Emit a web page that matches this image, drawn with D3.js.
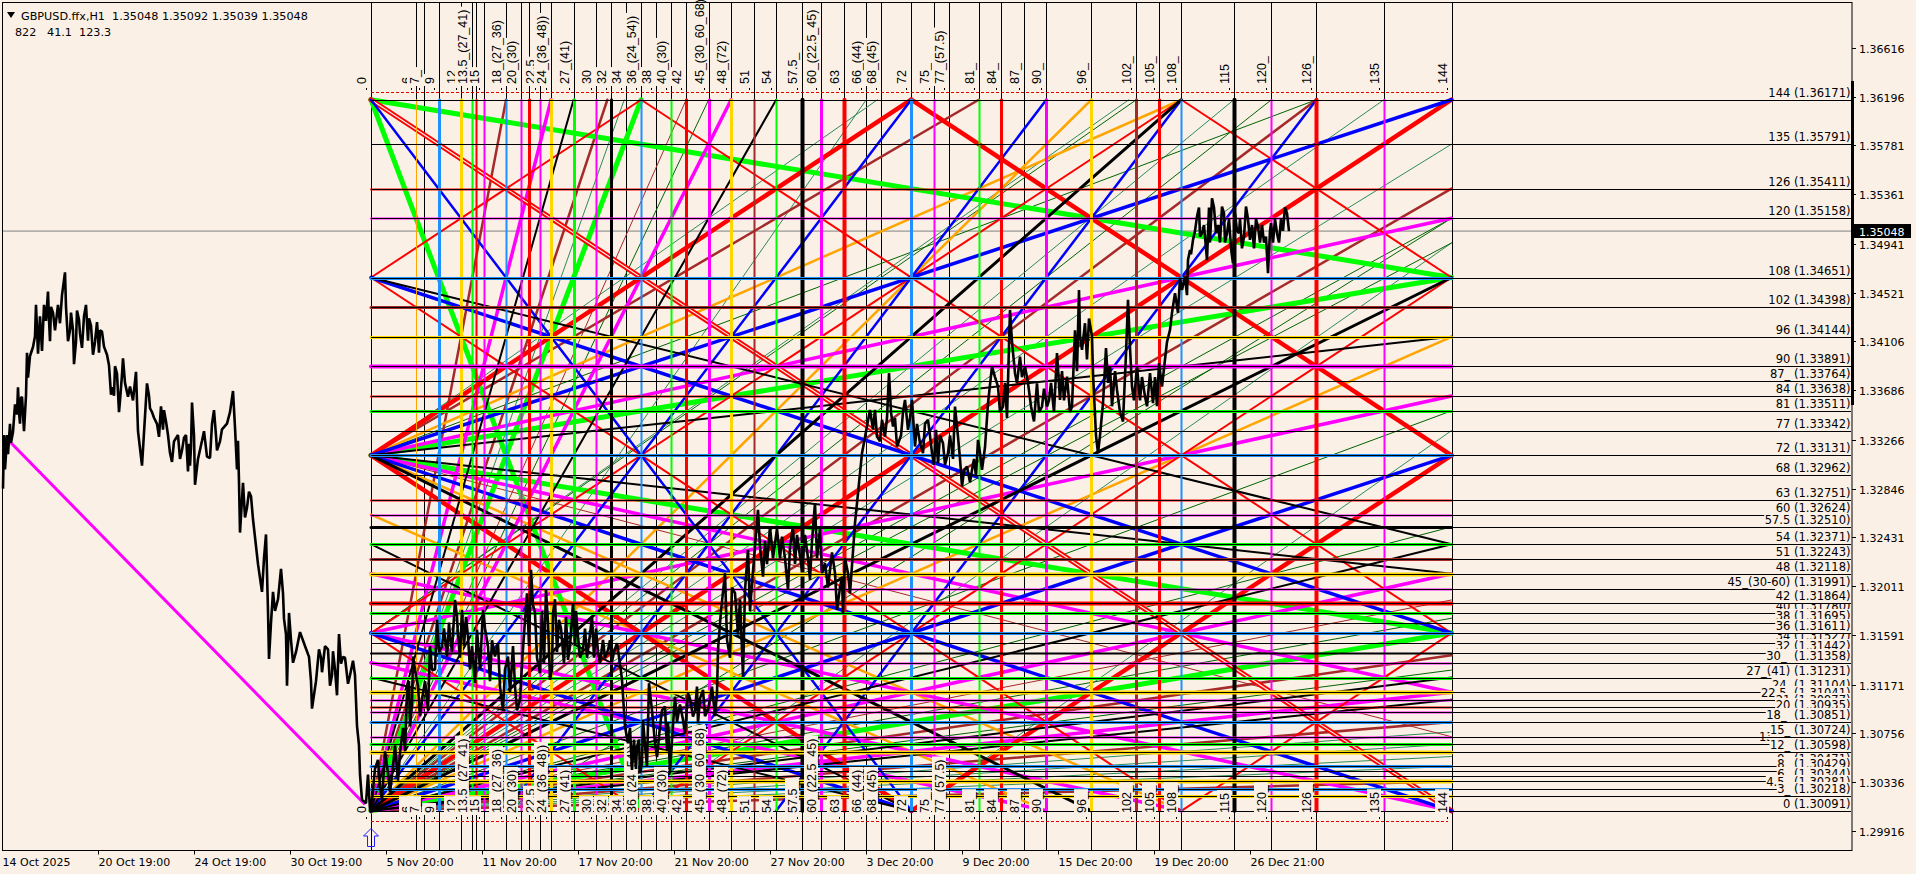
<!DOCTYPE html>
<html><head><meta charset="utf-8">
<script src="https://cdn.jsdelivr.net/npm/d3@7/dist/d3.min.js"></script>
<style>html,body{margin:0;padding:0;background:#faf0e6;overflow:hidden}svg{display:block}text{font-family:"DejaVu Sans",sans-serif;font-size:11px;fill:#000}</style>
</head><body><svg id="c" width="1916" height="874"></svg>
<script>
// ---------- data ----------
const axisPrices=["1.36616","1.36196","1.35781","1.35361","1.34941","1.34521","1.34106","1.33686","1.33266","1.32846","1.32431","1.32011","1.31591","1.31171","1.30756","1.30336","1.29916"];
const dateLabels=["14 Oct 2025","20 Oct 19:00","24 Oct 19:00","30 Oct 19:00","5 Nov 20:00","11 Nov 20:00","17 Nov 20:00","21 Nov 20:00","27 Nov 20:00","3 Dec 20:00","9 Dec 20:00","15 Dec 20:00","19 Dec 20:00","26 Dec 21:00"];
const dateBars=[0,96,192,288,384,480,576,672,768,864,960,1056,1152,1248];
const infoLine1="GBPUSD.ffx,H1  1.35048 1.35092 1.35039 1.35048";
const infoLine2="822   41.1  123.3";
const lastPrice=1.35048;
const levelBase=1.30091, levelTop=1.36171;
// Gann vertical steps and their labels
const stepValues=[0,6,7,9,12,13.5,14,15,18,20,21,22.5,24,27,30,32,34,36,38,40,42,45,48,51,54,57.5,60,63,66,68,72,75,77,81,84,87,90,96,102,105,108,115,120,126,135,144];
const stepLabels=["0","6_","7_","9","12","13.5_(27_41)","","15","18_(27_36)","20_(30)","","22.5","24_(36_48))","27_(41)","30","32","34","36_(24_54))","38","40_(30)","42","45_(30_60_68)","48_(72)","51","54","57.5_","60_(22.5_45)","63","66_(44)","68_(45)","72","75_","77_(57.5)","81_","84_","87_","90_","96_","102_","105_","108_","115","120_","126_","135","144"];
const stepColors=["black","orange","black","dodger","gold","lime","red","magenta","dodger","magenta","red","magenta","gold","lime","magenta","black","black","dodger","black","lime","red","magenta","gold","brown","lime","black","magenta","red","black","black","dodger","magenta","black","lime","red","black","magenta","gold","brown","red","dodger","black","magenta","red","magenta","black"];
// Gann horizontal levels and their labels
const levelValues=[144,135,126,120,108,102,96,90,87,84,81,77,72,68,63,60,57.5,54,51,48,45,42,40,38,36,34,32,30,27,24,22.5,21,20,18,15,13.5,12,9,8,7,6,4.5,3,0];
const levelNames=["144","135","126","120","108","102","96","90","87_","84","81","77","72","68","63","60","57.5","54","51","48","45_(30-60)","42","40","38","36","34","32","30_ ","27_(41)","24 ","22.5 ","21","20","18_ ","15_","13.5_","12_","9_","8_","7_","6_","4.5_","3_","0"];
const levelPrices=["1.36171","1.35791","1.35411","1.35158","1.34651","1.34398","1.34144","1.33891","1.33764","1.33638","1.33511","1.33342","1.33131","1.32962","1.32751","1.32624","1.32510","1.32371","1.32243","1.32118","1.31991","1.31864","1.31780","1.31695","1.31611","1.31527","1.31442","1.31358","1.31231","1.31104","1.31041","1.30977","1.30935","1.30851","1.30724","1.30661","1.30598","1.30471","1.30429","1.30387","1.30344","1.30281","1.30218","1.30091"];
const levelColors=["black","black","red","magenta","dodger","brown","gold","magenta","black","red","lime","black","dodger","black","red","magenta","black","lime","brown","gold","magenta","red","lime","black","dodger","black","black","magenta","lime","gold","magenta","red","magenta","dodger","magenta","lime","gold","dodger","black","red","gold","dodger","gold","black"];
const labelsDrawnFirst=[40,34,13.5,9,7];
// Rays: [step0, level0, step1, level1]
const redThickRays=[[0,0,144,144],[0,72,72,144],[72,144,144,72],[0,72,72,0],[72,0,144,72]];
const redThinRays=[[0,108,36,144],[0,36,108,144],[36,0,144,108],[108,0,144,36],[0,108,108,0],[36,144,144,36],[0,36,36,0],[108,144,144,108]];
const redDoubleRays=[[0,144,144,0]];
const blueWideRays=[[0,72,144,144],[0,108,144,36],[0,72,144,0],[0,0,144,72],[0,36,72,0]];
const blueSteepRays=[[0,144,72,0],[0,0,72,144],[18,0,90,144],[36,0,108,144],[54,0,126,144]];
const greenRays=[[0,144,144,108],[0,144,36,0],[0,72,144,108],[0,72,144,36],[0,0,36,144],[0,0,144,36]];
const magentaRays=[[0,72,144,120],[0,36,144,84],[0,0,144,48],[0,72,144,24],[0,36,108,0],[0,48,144,0],[0,0,48,144],[0,0,24,144],[0,0,144,24],[0,30,90,0]];
const orangeRays=[[0,0,144,96],[0,72,108,144],[0,0,96,144],[0,72,108,0],[0,60,90,0]];
const blackWideRays=[[0,0,144,108],[0,0,108,144],[0,72,96,0]];
const blackMidRays=[[0,108,144,54],[0,72,144,96],[0,72,144,48],[0,0,144,54],[0,0,54,144],[0,0,27,144],[0,0,144,27],[0,54,72,0],[0,27,72,0],[0,0,144,22.5]];
const brownRays=[[0,0,144,126],[0,0,126,144],[0,72,81,144],[0,0,18,144],[0,0,144,18],[0,0,31.5,144],[0,0,144,31.5],[0,0,144,6]];
const brownThinRays=[[0,72,144,15],[0,0,42,144],[0,0,144,42.7]];
const seaGreenRays=[[0,0,144,135],[0,0,135,144],[0,0,115,144],[0,0,66,144],[0,0,33.75,144],[36,0,144,115],[72,0,144,77],[0,36,101,144],[0,72,67.5,144],[0,0,144,16],[0,0,144,11],[0,0,144,13.5],[0,0,144,9]];
const darkGreenRays=[[0,0,144,120],[0,0,144,115],[0,0,144,81],[0,0,45,144],[0,0,120,144],[0,36,102,144],[0,72,126,144],[0,0,144,57.5],[0,0,144,39],[0,0,144,28.5],[18,0,144,120]];
// Price curve, [bar, close]
const octoberCloses=[[1,1.32846],[2,1.33304],[3,1.33010],[5,1.33304],[6,1.33141],[9,1.33239],[13,1.33566],[16,1.33713],[18,1.33402],[20,1.33631],[22,1.33337],[25,1.34008],[26,1.33795],[31,1.34057],[34,1.34417],[40,1.34024],[42,1.34417],[46,1.34531],[48,1.34106],[51,1.34351],[56,1.34417],[63,1.34695],[66,1.34106],[69,1.34351],[72,1.33910],[75,1.34368],[78,1.34171],[84,1.34417],[87,1.34302],[91,1.33991],[95,1.34270],[97,1.34008],[100,1.34188],[105,1.33991],[111,1.33713],[113,1.33893],[118,1.33599],[121,1.33959],[126,1.33631],[134,1.33844],[136,1.33337],[140,1.33043],[145,1.33746],[148,1.33533],[152,1.33452],[157,1.33288],[159,1.33550],[162,1.33517],[166,1.33304],[170,1.33075],[176,1.33304],[180,1.33173],[184,1.33304],[186,1.32993],[188,1.33043],[190,1.33582],[193,1.32879],[200,1.33255],[202,1.33337],[208,1.33108],[212,1.33517],[215,1.33173],[220,1.33353],[225,1.33402],[231,1.33681],[233,1.33370],[235,1.33010],[236,1.33255],[238,1.32470],[241,1.32895],[245,1.32683],[249,1.32781],[251,1.32584],[254,1.32355],[260,1.31963],[264,1.32454],[267,1.31390],[271,1.31963],[279,1.32159],[282,1.31734],[285,1.31161],[287,1.31783],[291,1.31357],[298,1.31619],[307,1.31407],[310,1.30965],[317,1.31472],[320,1.31276],[326,1.31472],[328,1.31161],[331,1.31456],[335,1.31079],[337,1.31603],[341,1.31407],[346,1.31177],[351,1.31374],[355,1.30818],[360,1.30185]];
const octoberDetail=[[4,1.33140],[8,1.33400],[11,1.33330],[15,1.33480],[17,1.33500],[19,1.33620],[24,1.33640],[28,1.33980],[33,1.34150],[36,1.34000],[38,1.34320],[44,1.34280],[47,1.34290],[49,1.34400],[53,1.34200],[58,1.34260],[60,1.34500],[64,1.34400],[68,1.34200],[71,1.34200],[74,1.34100],[77,1.34290],[80,1.34050],[82,1.34320],[86,1.34110],[89,1.34240],[93,1.34100],[96,1.34150],[98,1.34200],[102,1.34060],[107,1.33900],[109,1.33650],[112,1.33640],[115,1.33830],[117,1.33500],[120,1.33820],[123,1.33750],[128,1.33720],[131,1.33600],[147,1.33640],[150,1.33500],[155,1.33400],[161,1.33350],[164,1.33420],[168,1.33150],[172,1.33250],[178,1.33100],[182,1.33280],[187,1.33230],[189,1.33200],[192,1.33300],[196,1.33100],[205,1.33120],[210,1.33400],[214,1.33300],[218,1.33250],[228,1.33500],[237,1.32900],[243,1.32600],[247,1.32820],[256,1.32200],[262,1.32250],[266,1.31800],[269,1.31700],[273,1.31800],[276,1.31900],[281,1.31950],[284,1.31600],[289,1.31550],[294,1.31450],[303,1.31500],[309,1.31200],[314,1.31200],[319,1.31400],[323,1.31500],[330,1.31250],[333,1.31300],[339,1.31350],[343,1.31400],[348,1.31250],[353,1.31250],[357,1.30650],[358,1.30400]];
const novemberCloses=[[364,1.30156],[370,1.30185],[376,1.30527],[380,1.30185],[386,1.30413],[391,1.30470],[398,1.30584],[405,1.31097],[408,1.30812],[411,1.31410],[416,1.31154],[421,1.31097],[426,1.30954],[430,1.31296],[435,1.31724],[440,1.31496],[445,1.31410],[448,1.31581],[453,1.31895],[456,1.31581],[460,1.31809],[466,1.31581],[473,1.31182],[475,1.31638],[481,1.31809],[486,1.31496],[493,1.31410],[496,1.31524],[501,1.30954],[506,1.31410],[513,1.31154],[518,1.31040],[523,1.31724],[529,1.32151],[533,1.31781],[538,1.31268],[544,1.31980],[548,1.31211],[551,1.31781],[557,1.31724],[566,1.31382],[571,1.31866],[576,1.31581],[581,1.31467],[590,1.31752],[598,1.31353],[601,1.31553],[606,1.31467],[610,1.31368],[615,1.31524],[620,1.31211],[623,1.30812],[626,1.30669],[630,1.30441],[635,1.30641],[638,1.30413],[641,1.30869],[645,1.30470],[647,1.31182],[653,1.30669],[658,1.30812],[663,1.30983],[668,1.30413],[673,1.31068],[681,1.30869],[686,1.31097],[691,1.30897],[695,1.31154],[696,1.30840],[701,1.31125],[706,1.30954],[710,1.31154],[715,1.31097],[716,1.31467],[723,1.32123],[725,1.31553],[733,1.31952],[741,1.31239],[743,1.31980],[746,1.32322],[750,1.32037],[756,1.32664],[761,1.32094],[768,1.32522],[773,1.32379],[780,1.32436],[786,1.31980],[791,1.32522],[798,1.32265],[808,1.32066],[813,1.32721],[820,1.32123],[823,1.32208],[833,1.32123],[835,1.31809],[840,1.32094],[841,1.31781],[846,1.32123],[853,1.32550],[860,1.33149]];
const novemberDetail=[[366,1.30400],[368,1.30100],[373,1.30450],[378,1.30300],[383,1.30600],[388,1.30250],[393,1.30650],[396,1.30350],[401,1.30800],[403,1.30600],[407,1.31200],[410,1.31000],[413,1.31300],[418,1.30900],[423,1.31200],[428,1.31500],[433,1.31300],[437,1.31450],[442,1.31650],[447,1.31700],[450,1.31450],[455,1.31750],[458,1.31400],[462,1.31500],[464,1.31750],[468,1.31300],[470,1.31500],[478,1.31300],[483,1.31650],[488,1.31200],[490,1.31550],[498,1.31150],[503,1.31300],[508,1.31100],[511,1.31500],[515,1.30950],[520,1.31350],[525,1.31950],[527,1.31500],[531,1.31850],[535,1.31400],[540,1.31800],[542,1.31350],[546,1.31700],[550,1.31300],[553,1.31900],[555,1.31450],[559,1.31650],[562,1.31350],[564,1.31750],[568,1.31500],[573,1.31500],[574,1.31800],[578,1.31400],[583,1.31650],[585,1.31400],[588,1.31600],[592,1.31400],[594,1.31650],[596,1.31450],[603,1.31400],[608,1.31550],[612,1.31450],[618,1.31350],[628,1.30800],[632,1.30700],[634,1.30450],[637,1.30700],[640,1.30500],[643,1.30650],[650,1.30950],[655,1.30550],[660,1.30950],[665,1.30600],[666,1.30850],[670,1.30700],[675,1.30850],[678,1.31000],[683,1.30750],[688,1.31050],[693,1.30950],[698,1.31050],[703,1.30900],[708,1.31050],[713,1.30900],[719,1.31800],[728,1.31400],[730,1.32000],[736,1.31600],[738,1.31900],[748,1.31800],[758,1.32350],[763,1.32400],[765,1.32200],[771,1.32250],[775,1.32500],[778,1.32250],[783,1.32250],[788,1.32350],[793,1.32200],[795,1.32450],[800,1.32150],[803,1.32450],[806,1.32250],[810,1.32400],[815,1.32250],[818,1.32500],[826,1.32000],[830,1.32300],[838,1.32000],[843,1.32250],[848,1.31950]];
const decemberCloses=[[868,1.33519],[875,1.33291],[880,1.33434],[883,1.33291],[887,1.33833],[891,1.33377],[895,1.33206],[903,1.33605],[906,1.33348],[910,1.33605],[913,1.33206],[918,1.33234],[926,1.33434],[930,1.33149],[934,1.33348],[936,1.33063],[941,1.33234],[946,1.33149],[953,1.33548],[956,1.33291],[960,1.32864],[965,1.33035],[970,1.33006],[976,1.33263],[980,1.33006],[986,1.33576],[990,1.33890],[996,1.33719],[1001,1.33548],[1008,1.34374],[1013,1.33833],[1018,1.33975],[1023,1.33890],[1032,1.33420],[1035,1.33747],[1040,1.33548],[1045,1.33548],[1055,1.34004],[1058,1.33605],[1065,1.33804],[1070,1.33548],[1077,1.34545],[1080,1.34032],[1083,1.34260],[1090,1.34146],[1091,1.33833],[1096,1.33149],[1101,1.33576],[1104,1.34047],[1108,1.33890],[1115,1.33690],[1121,1.33420],[1126,1.34460],[1130,1.33719],[1135,1.33890],[1143,1.33633],[1148,1.33833],[1151,1.33576],[1157,1.33918],[1160,1.33719],[1168,1.34203],[1173,1.34517],[1180,1.34545],[1183,1.34659],[1188,1.34887]];
const decemberDetail=[[871,1.33350],[873,1.33520],[878,1.33250],[885,1.33450],[889,1.33500],[893,1.33450],[899,1.33300],[901,1.33500],[908,1.33450],[915,1.33400],[921,1.33150],[923,1.33400],[928,1.33300],[932,1.33050],[938,1.33300],[943,1.33050],[948,1.33300],[951,1.33100],[958,1.33100],[962,1.33000],[968,1.32900],[972,1.33100],[974,1.32950],[978,1.33150],[983,1.33200],[993,1.33800],[998,1.33500],[1003,1.33750],[1005,1.33450],[1010,1.34100],[1015,1.33750],[1020,1.33800],[1026,1.33750],[1029,1.33550],[1037,1.33500],[1042,1.33700],[1047,1.33600],[1049,1.33750],[1052,1.33500],[1060,1.33850],[1062,1.33600],[1068,1.33500],[1073,1.34200],[1075,1.33850],[1078,1.34150],[1085,1.33950],[1087,1.34300],[1094,1.33300],[1098,1.33300],[1106,1.33750],[1110,1.33550],[1113,1.33850],[1118,1.33500],[1124,1.34000],[1128,1.34050],[1132,1.33600],[1138,1.33600],[1140,1.33800],[1145,1.33550],[1153,1.33800],[1155,1.33550],[1163,1.33950],[1165,1.34100],[1170,1.34350],[1176,1.34350],[1178,1.34650],[1185,1.34500],[1186,1.34800]];
const lateDecemberCloses=[[1191,1.34973],[1195,1.35172],[1200,1.35030],[1205,1.34800],[1210,1.35329],[1214,1.35030],[1220,1.35258],[1225,1.35030],[1231,1.34773],[1233,1.35201],[1237,1.35030],[1240,1.34900],[1244,1.35258],[1248,1.34973],[1256,1.35087],[1264,1.35001],[1266,1.34688],[1269,1.35115],[1275,1.35030],[1285,1.35201],[1287,1.35048]];
const lateDecemberDetail=[[1189,1.34850],[1193,1.35050],[1197,1.35250],[1198,1.35000],[1202,1.35100],[1204,1.34900],[1207,1.35250],[1208,1.34950],[1212,1.35250],[1216,1.35100],[1218,1.34950],[1222,1.35200],[1223,1.34950],[1227,1.35150],[1229,1.34900],[1235,1.35050],[1238,1.35150],[1242,1.35000],[1246,1.35150],[1250,1.35100],[1252,1.34900],[1254,1.35150],[1258,1.34950],[1260,1.35100],[1262,1.34950],[1268,1.35050],[1271,1.34950],[1273,1.35150],[1277,1.34950],[1279,1.35150],[1281,1.35050],[1283,1.35250]];
const magentaTrendPrices=[[3,1.33290],[363,1.30145]];

// ---------- scales ----------
const yP=d3.scaleLinear().domain([1.36616,1.29916]).range([47.7,831.3]);
const xStep=d3.scaleLinear().domain([0,144]).range([371,1451.5]);
const yLevel=d3.scaleLinear().domain([0,144]).range([yP(levelBase),yP(levelTop)]);
const xBar=d3.scaleLinear().domain([0,1288]).range([2,1290]);
// ---------- styles ----------
const BG="#faf0e6";
const colorOf={black:"#000",orange:"#ffa500",dodger:"#1e90ff",gold:"#ffd700",lime:"#00ff00",red:"#ff0000",magenta:"#ff00ff",brown:"#a52a2a"};
const stepWidth={0:1,6:1,7:1,9:3,12:3,13.5:2,14:2,15:2,18:2,20:2,21:3,22.5:2,24:3,27:3,30:2,32:3,34:1,36:2,38:1,40:2,42:3,45:3,48:3,51:2,54:2,57.5:4,60:3,63:4,66:1,68:1,72:3,75:2,77:1,81:2,84:3,87:1,90:3,96:3,102:3,105:3,108:2,115:4,120:2,126:4,135:2,144:1};
const levelWidth={144:1,135:1,126:2,120:2,108:3,102:3,96:3,90:4,87:1,84:2,81:3,77:1,72:3,68:1,63:2,60:2,57.5:3,54:3,51:3,48:4,45:2,42:4,40:3,38:1,36:3,34:1,32:2,30:2,27:3,24:4,22.5:2,21:2,20:2,18:3,15:2,13.5:3,12:4,9:3,8:1,7:1,6:4,4.5:3,3:3,0:1};

const svg=d3.select("#c");
svg.append("rect").attr("width",1916).attr("height",874).attr("fill",BG);
const L={l:2.5,r:1852,t:2.5,b:850.5};

svg.append("line").attr("x1",L.l).attr("x2",L.r).attr("y1",yP(lastPrice)).attr("y2",yP(lastPrice)).attr("stroke","#808080");

const gBlack=svg.append("g");
stepValues.forEach(n=>gBlack.append("line").attr("x1",Math.round(xStep(n))+.5).attr("x2",Math.round(xStep(n))+.5).attr("y1",L.t).attr("y2",L.b).attr("stroke","#000"));

const gRays=svg.append("g").attr("stroke-linecap","round");
function rays(list,color,w){
  gRays.append("g").selectAll("line").data(list).join("line")
    .attr("x1",d=>xStep(d[0])).attr("y1",d=>yLevel(d[1])).attr("x2",d=>xStep(d[2])).attr("y2",d=>yLevel(d[3]))
    .attr("stroke",color).attr("stroke-width",w);
}
rays(seaGreenRays,"#2e8b57",1);
rays(darkGreenRays,"#006400",1);
rays(brownThinRays,"#a52a2a",1);
rays(brownRays,"#a52a2a",2.5);
rays(orangeRays,"#ffa500",2.5);
rays(greenRays,"#00ff00",5);
rays(magentaRays,"#ff00ff",3.5);
rays(redThinRays,"#ff0000",2);
rays(redDoubleRays,"#ff0000",5);
rays(redDoubleRays,BG,1.2);
rays(redThickRays,"#ff0000",4.5);
rays(blueWideRays,"#0000ff",3.5);
rays(blueSteepRays,"#0000ff",2.5);
rays(blackMidRays,"#000",2);
rays(blackWideRays,"#000",3);

const gV=svg.append("g").attr("stroke-linecap","round");
stepValues.forEach((n,i)=>{
  if(stepColors[i]==="black"&&stepWidth[n]===1)return;
  gV.append("line").attr("x1",Math.round(xStep(n))+.5).attr("x2",Math.round(xStep(n))+.5).attr("y1",yLevel(144)).attr("y2",yLevel(0))
    .attr("stroke",colorOf[stepColors[i]]).attr("stroke-width",stepWidth[n]);
});
const gH=svg.append("g").attr("stroke-linecap","round");
levelValues.forEach((l,i)=>{
  if(levelColors[i]==="black"&&levelWidth[l]===1)return;
  gH.append("line").attr("x1",xStep(0)).attr("x2",xStep(144)).attr("y1",Math.round(yLevel(l))+.5).attr("y2",Math.round(yLevel(l))+.5)
    .attr("stroke",colorOf[levelColors[i]]).attr("stroke-width",levelWidth[l]);
});
[yP(1.36171)-7.8,yP(1.30091)+9.7].forEach(y=>svg.append("line").attr("x1",xStep(0)).attr("x2",1448).attr("y1",Math.round(y)+.5).attr("y2",Math.round(y)+.5).attr("stroke","#e00000").attr("stroke-dasharray","3,2"));

const order=labelsDrawnFirst.concat(levelValues.filter(v=>!labelsDrawnFirst.includes(v)));
const gR=svg.append("g");
order.forEach(l=>{
  const i=levelValues.indexOf(l), y=Math.round(yLevel(l))+.5;
  gR.append("line").attr("x1",xStep(0)).attr("x2",1851).attr("y1",y).attr("y2",y).attr("stroke","#000");
  const t=gR.append("text").attr("x",1850.5).attr("y",y-3.5).attr("text-anchor","end").style("font-size","11.5px").style("white-space","pre").text(levelNames[i]+" ("+levelPrices[i]+")");
  const w=t.node().getComputedTextLength();
  gR.insert("rect","text:last-of-type").attr("x",1851-w-1).attr("y",y-14.5).attr("width",w+1).attr("height",14).attr("fill",BG);
});

const gT=svg.append("g");
const VF='font-family:"Liberation Sans",sans-serif;font-size:12.5px';
// short labels first, so the long ones stay whole where neighbours overlap
const labelOrder=d3.range(stepValues.length).filter(i=>stepLabels[i]).sort((a,b)=>stepLabels[a].length-stepLabels[b].length||a-b);
[{y0:84,dot:88},{y0:813,dot:817}].forEach(cfg=>{
  labelOrder.forEach(i=>{
    const x=Math.round(xStep(stepValues[i]));
    const t=gT.append("text").attr("style",VF).attr("transform",`translate(${x-5},${cfg.y0}) rotate(-90)`).text(stepLabels[i]);
    const w=t.node().getComputedTextLength();
    gT.insert("rect","text:last-of-type").attr("x",x-17).attr("y",cfg.y0-w-3).attr("width",14).attr("height",w+5).attr("fill",BG);
    gT.append("rect").attr("x",x-5).attr("y",cfg.dot).attr("width",1).attr("height",2).attr("fill","#000");
  });
});

const lineFn=d3.line().x(d=>xBar(d[0])).y(d=>yP(d[1]));
svg.append("path").attr("d",lineFn(magentaTrendPrices)).attr("fill","none").attr("stroke","#ff00ff").attr("stroke-width",3);
const closes=[].concat(octoberCloses,octoberDetail,novemberCloses,novemberDetail,decemberCloses,decemberDetail,lateDecemberCloses,lateDecemberDetail).sort((a,b)=>a[0]-b[0]);
svg.append("path").attr("d",lineFn(closes)).attr("fill","none").attr("stroke","#000").attr("stroke-width",2.6).attr("stroke-linejoin","bevel");

const ax=xStep(0);
svg.append("path").attr("d",`M${ax},828.5 L${ax+7.5},836 L${ax+3.5},836 L${ax+3.5},846.5 L${ax-3.5},846.5 L${ax-3.5},836 L${ax-7.5},836 Z`).attr("fill","none").attr("stroke","#2020ff");

svg.append("rect").attr("x",L.l).attr("y",L.t).attr("width",L.r-L.l).attr("height",L.b-L.t).attr("fill","none").attr("stroke","#000");
svg.append("rect").attr("x",1851).attr("y",81).attr("width",3).attr("height",324).attr("fill","#000");

axisPrices.forEach(p=>{
  const y=Math.round(yP(+p))+.5;
  svg.append("line").attr("x1",L.r).attr("x2",L.r+4).attr("y1",y).attr("y2",y).attr("stroke","#000");
  svg.append("text").attr("x",L.r+7).attr("y",y+4.5).text(p);
});
const yl=Math.round(yP(lastPrice));
svg.append("rect").attr("x",L.r+1).attr("y",yl-7).attr("width",58).attr("height",14).attr("fill","#000");
svg.append("text").attr("x",L.r+7).attr("y",yl+4.5).attr("style","fill:#fff").text(lastPrice.toFixed(5));

dateLabels.forEach((d,i)=>{
  const x=Math.round(xBar(dateBars[i]))+.5;
  if(i>0)svg.append("line").attr("x1",x).attr("x2",x).attr("y1",L.b).attr("y2",L.b+4).attr("stroke","#000");
  svg.append("text").attr("x",x).attr("y",866).text(d);
});

svg.append("path").attr("d","M7,12 L15,12 L11,18 Z").attr("fill","#000");
svg.append("text").attr("x",21).attr("y",20).style("font-size","11.2px").style("white-space","pre").text(infoLine1);
svg.append("text").attr("x",15).attr("y",36).style("font-size","11.2px").style("white-space","pre").text(infoLine2);
</script></body></html>
